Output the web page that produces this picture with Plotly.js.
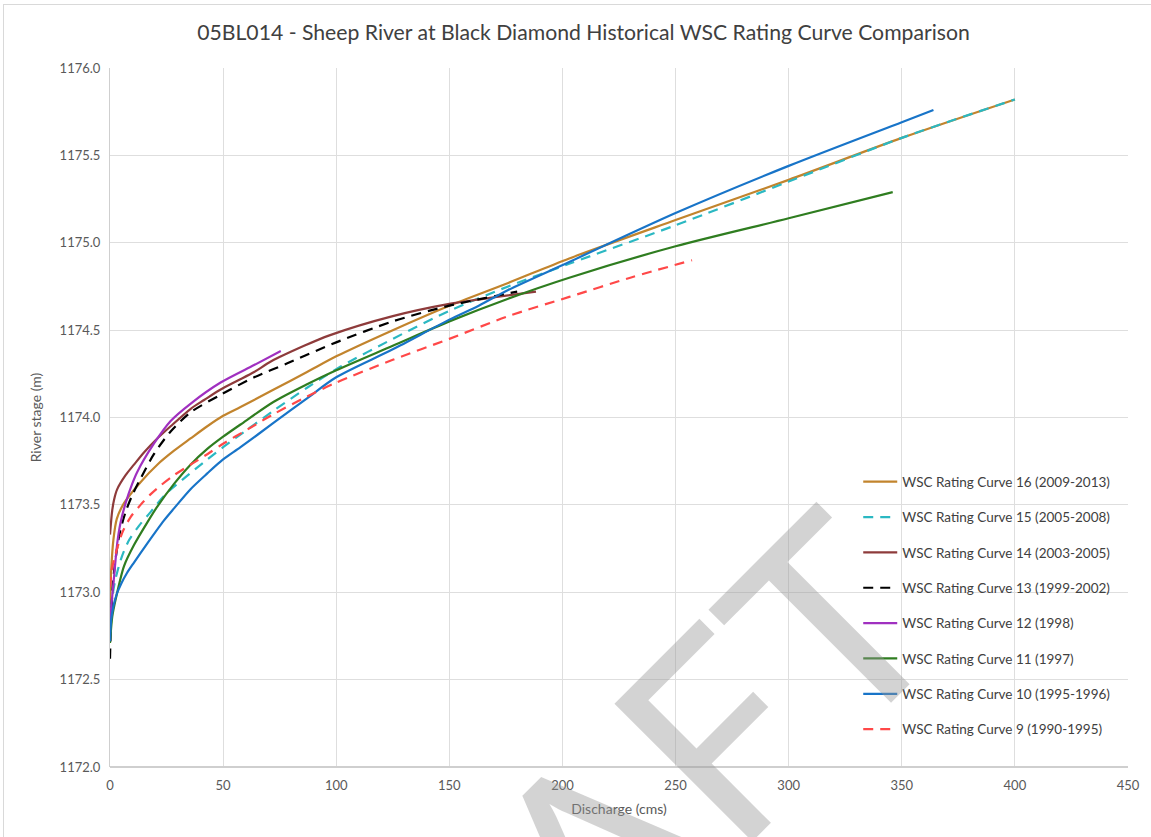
<!DOCTYPE html>
<html>
<head>
<meta charset="utf-8">
<script src="https://cdn.plot.ly/plotly-3.0.1.min.js"></script>
<style>
  html, body { margin: 0; padding: 0; background: #fff; }
  #chart { width: 1151px; height: 837px; }
  #frame { position: absolute; left: 3px; top: 4px; width: 1160px; height: 850px;
           border-left: 1px solid #d9d9d9; border-top: 1px solid #d9d9d9; pointer-events: none; }
</style>
</head>
<body>
<div id="chart"></div>
<div id="frame"></div>
<script>
// ---- Data ----
const seriesNames = [
  "WSC Rating Curve 16 (2009-2013)",
  "WSC Rating Curve 15 (2005-2008)",
  "WSC Rating Curve 14 (2003-2005)",
  "WSC Rating Curve 13 (1999-2002)",
  "WSC Rating Curve 12 (1998)",
  "WSC Rating Curve 11 (1997)",
  "WSC Rating Curve 10 (1995-1996)",
  "WSC Rating Curve 9 (1990-1995)"
];

// Discharge (cms) and river stage (m) for each rating curve
const q16 = [0, 0.5, 1.5, 3, 6.2, 13.5, 20.9, 28.3, 35.6, 43, 50, 57.7, 72.4, 87.1, 100, 125, 150, 176, 203, 250, 300, 350, 400];
const h16 = [1172.93, 1173.12, 1173.30, 1173.42, 1173.51, 1173.63, 1173.73, 1173.81, 1173.88, 1173.95, 1174.01, 1174.06, 1174.16, 1174.26, 1174.35, 1174.50, 1174.64, 1174.77, 1174.91, 1175.13, 1175.36, 1175.60, 1175.82];

const q15 = [0, 1, 2.5, 5.4, 8.5, 12.8, 18, 24.5, 32.6, 43, 50, 60.6, 72.4, 87.1, 101.8, 125, 150, 176, 203, 250, 300, 350, 400];
const h15 = [1172.80, 1172.97, 1173.08, 1173.21, 1173.30, 1173.38, 1173.46, 1173.56, 1173.65, 1173.76, 1173.83, 1173.93, 1174.04, 1174.17, 1174.29, 1174.45, 1174.61, 1174.75, 1174.88, 1175.10, 1175.35, 1175.60, 1175.82];

const q14 = [0, 1, 1.8, 3.2, 6.9, 10.6, 15, 20.9, 26.8, 35.7, 41.6, 48.9, 56.3, 63.7, 71.1, 85.8, 97, 125, 150, 171, 188.3];
const h14 = [1173.33, 1173.47, 1173.53, 1173.59, 1173.67, 1173.73, 1173.80, 1173.88, 1173.95, 1174.05, 1174.10, 1174.16, 1174.21, 1174.26, 1174.32, 1174.41, 1174.47, 1174.58, 1174.65, 1174.69, 1174.72];

const q13 = [0, 0.5, 1.5, 4, 6.9, 10, 13.5, 19.4, 26.8, 35.7, 48.9, 63.7, 78.4, 100, 125, 150, 180];
const h13 = [1172.62, 1172.85, 1173.08, 1173.32, 1173.46, 1173.56, 1173.65, 1173.79, 1173.92, 1174.03, 1174.13, 1174.23, 1174.31, 1174.43, 1174.55, 1174.64, 1174.72];

const q12 = [0, 0.6, 1.8, 3.2, 4.7, 6.9, 9.8, 12.1, 19.4, 26.8, 35.7, 48.9, 63.7, 75.5];
const h12 = [1172.80, 1172.92, 1173.09, 1173.28, 1173.40, 1173.51, 1173.62, 1173.69, 1173.85, 1173.98, 1174.08, 1174.20, 1174.30, 1174.38];

const q11 = [0, 1, 2.5, 6.2, 10.6, 16.5, 20.9, 28.3, 35.6, 43, 50, 57.7, 72.4, 87.1, 100, 125, 150, 176, 203, 250, 300, 346];
const h11 = [1172.71, 1172.86, 1172.96, 1173.15, 1173.27, 1173.40, 1173.49, 1173.62, 1173.73, 1173.82, 1173.89, 1173.96, 1174.09, 1174.19, 1174.27, 1174.41, 1174.55, 1174.68, 1174.80, 1174.98, 1175.14, 1175.29];

const q10 = [0, 0.5, 1.5, 3, 5, 7.5, 10.6, 16.5, 23.8, 28.3, 35.6, 43, 50, 57.7, 72.4, 87.1, 100, 125, 150, 163, 176, 203, 250, 300, 350, 364];
const h10 = [1172.72, 1172.84, 1172.92, 1172.99, 1173.05, 1173.11, 1173.17, 1173.28, 1173.41, 1173.48, 1173.59, 1173.68, 1173.76, 1173.83, 1173.97, 1174.11, 1174.23, 1174.39, 1174.56, 1174.64, 1174.73, 1174.89, 1175.17, 1175.44, 1175.69, 1175.76];

const q9 = [0, 0.8, 2.5, 5.4, 9.1, 13.5, 17.9, 22.3, 28.3, 35.6, 43, 50, 60.6, 72.4, 87.1, 100, 125, 150, 176, 203, 230, 257.3];
const h9 = [1173.03, 1173.13, 1173.22, 1173.34, 1173.43, 1173.50, 1173.56, 1173.61, 1173.67, 1173.73, 1173.79, 1173.85, 1173.93, 1174.02, 1174.12, 1174.20, 1174.33, 1174.45, 1174.58, 1174.69, 1174.80, 1174.90];

const xTicks = [0, 50, 100, 150, 200, 250, 300, 350, 400, 450];
const yTicks = [1172.0, 1172.5, 1173.0, 1173.5, 1174.0, 1174.5, 1175.0, 1175.5, 1176.0];

// ---- Styles ----
const xs = [q16, q15, q14, q13, q12, q11, q10, q9];
const ys = [h16, h15, h14, h13, h12, h11, h10, h9];
const colors = ["#C2842D", "#2BB8C2", "#8E3B3B", "#000000", "#A030C0", "#2F7D20", "#1874C8", "#FF4848"];
const dashes = ["solid", "10px,7px", "solid", "10px,7px", "solid", "solid", "solid", "10px,7px"];

const traces = seriesNames.map((name, i) => ({
  type: "scatter",
  mode: "lines",
  name: name,
  x: xs[i],
  y: ys[i],
  legendgroup: "g" + i,
  line: { color: colors[i], width: 2.2, dash: dashes[i], shape: "spline", smoothing: 0.8 }
}));

const layout = {
  width: 1151,
  height: 837,
  margin: { l: 110, r: 23, t: 68, b: 70 },
  paper_bgcolor: "#ffffff",
  plot_bgcolor: "#ffffff",
  font: { family: "Lato, 'Open Sans', sans-serif", color: "#404040" },
  title: {
    text: "05BL014 - Sheep River at Black Diamond Historical WSC Rating Curve Comparison",
    font: { family: "Lato, 'Open Sans', sans-serif", size: 21.2, color: "#404040" },
    x: 583.5 / 1151, xref: "container", xanchor: "center",
    y: 1 - 33 / 837, yanchor: "middle"
  },
  xaxis: {
    range: [0, 450],
    tickvals: xTicks,
    ticktext: xTicks.map(String),
    showgrid: true, gridcolor: "#dedede", gridwidth: 1,
    zeroline: false,
    showline: false,
    ticks: "outside", ticklen: 6, tickcolor: "rgba(0,0,0,0)",
    tickfont: { size: 13, color: "#595959" },
    title: { text: "Discharge (cms)", font: { size: 14, color: "#595959" }, standoff: 12 }
  },
  yaxis: {
    range: [1172, 1176],
    tickvals: yTicks,
    ticktext: yTicks.map(v => v.toFixed(1)),
    showgrid: true, gridcolor: "#dedede", gridwidth: 1,
    zeroline: false,
    showline: true, linecolor: "#cfcfcf", linewidth: 1,
    ticks: "outside", ticklen: 6, tickcolor: "rgba(0,0,0,0)",
    tickfont: { size: 13, color: "#595959" },
    title: { text: "River stage (m)", font: { size: 14, color: "#595959" }, standoff: 14 }
  },
  shapes: [
    { type: "line", xref: "paper", yref: "paper", x0: 0, x1: 1, y0: 0, y1: 0,
      line: { color: "#cfcfcf", width: 2 } }
  ],
  legend: {
    x: 0.735, y: 0.43, xanchor: "left", yanchor: "top",
    bgcolor: "rgba(0,0,0,0)",
    font: { size: 13.5, color: "#404040" },
    traceorder: "grouped",
    tracegroupgap: 14.8,
    itemwidth: 34
  },
  annotations: [
    {
      text: "DRAFT",
      xref: "paper", yref: "paper",
      x: 0.455, y: -0.15,
      xanchor: "center", yanchor: "middle",
      showarrow: false,
      textangle: -45,
      font: { family: "Lato, sans-serif", size: 272, color: "rgba(150,150,150,0.42)" }
    }
  ],
  showlegend: true
};

Plotly.newPlot("chart", traces, layout, { displayModeBar: false, staticPlot: true });
</script>
</body>
</html>
